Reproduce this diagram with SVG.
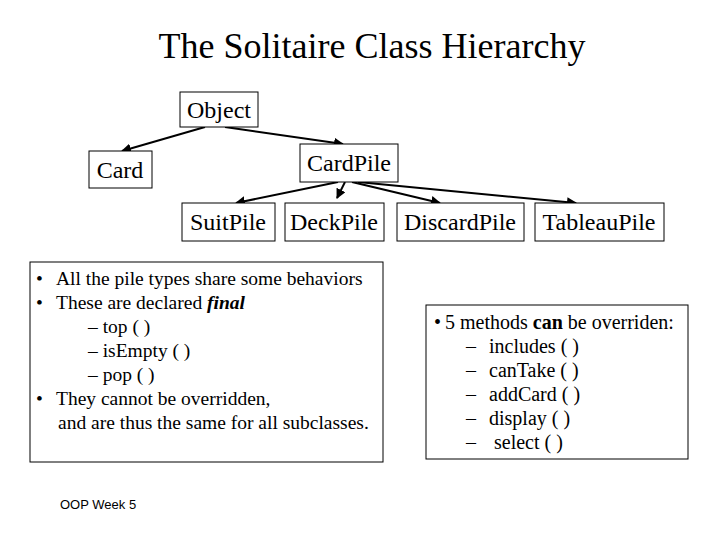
<svg xmlns="http://www.w3.org/2000/svg" width="720" height="540" viewBox="0 0 720 540">
<style>
text{font-family:"Liberation Serif","Times New Roman",serif;fill:#000}
.n{font-size:24px;text-anchor:middle}
.b{fill:#fff;stroke:#000;stroke-width:1}
.t{font-size:19.5px}
.r{font-size:20px}
line{stroke:#000;stroke-width:2;marker-end:url(#a)}
</style>
<defs><marker id="a" viewBox="0 0 10 10" refX="9" refY="5" markerWidth="5" markerHeight="5" orient="auto"><path d="M0,0L10,5L0,10z"/></marker></defs>
<rect width="720" height="540" fill="#fff"/>
<text x="372" y="58" font-size="36" text-anchor="middle">The Solitaire Class Hierarchy</text>
<g id="connectors">
<line x1="205" y1="127" x2="122" y2="151"/>
<line x1="225" y1="127" x2="343" y2="144"/>
<line x1="338" y1="182" x2="236" y2="203"/>
<line x1="345" y1="182" x2="337" y2="198"/>
<line x1="352" y1="182" x2="440" y2="203"/>
<line x1="358" y1="182" x2="576" y2="203"/>
</g>
<g id="object"><rect class="b" x="180" y="92" width="78" height="35"/><text class="n" x="219" y="118">Object</text></g>
<g id="card"><rect class="b" x="89" y="151" width="63" height="37"/><text class="n" x="120" y="178">Card</text></g>
<g id="cardpile"><rect class="b" x="300" y="144" width="98" height="38"/><text class="n" x="349" y="171">CardPile</text></g>
<g id="suitpile"><rect class="b" x="182" y="203" width="93" height="38"/><text class="n" x="228" y="230">SuitPile</text></g>
<g id="deckpile"><rect class="b" x="285" y="203" width="99" height="38"/><text class="n" x="334" y="230">DeckPile</text></g>
<g id="discardpile"><rect class="b" x="397" y="203" width="127" height="38"/><text class="n" x="460" y="230">DiscardPile</text></g>
<g id="tableaupile"><rect class="b" x="535" y="203" width="129" height="38"/><text class="n" x="599" y="230">TableauPile</text></g>
<g id="final-box"><rect class="b" x="30" y="262" width="353" height="200"/>
<text class="t" x="36" y="285">•</text><text class="t" x="56" y="285">All the pile types share some behaviors</text>
<text class="t" x="36" y="309">•</text><text class="t" x="56" y="309">These are declared <tspan font-weight="bold" font-style="italic">final</tspan></text>
<text class="t" x="88" y="333">– top ( )</text>
<text class="t" x="88" y="357">– isEmpty ( )</text>
<text class="t" x="88" y="381">– pop ( )</text>
<text class="t" x="36" y="405">•</text><text class="t" x="56" y="405">They cannot be overridden,</text>
<text class="t" x="58" y="429">and are thus the same for all subclasses.</text></g>
<g id="override-box"><rect class="b" x="426" y="305" width="262" height="154"/>
<text class="r" x="434" y="329">•</text><text class="r" x="445" y="329">5 methods <tspan font-weight="bold">can</tspan> be overriden:</text>
<text class="r" x="466" y="353">–</text><text class="r" x="489" y="353">includes ( )</text>
<text class="r" x="466" y="377">–</text><text class="r" x="489" y="377">canTake ( )</text>
<text class="r" x="466" y="401">–</text><text class="r" x="489" y="401">addCard ( )</text>
<text class="r" x="466" y="425">–</text><text class="r" x="489" y="425">display ( )</text>
<text class="r" x="466" y="449">–</text><text class="r" x="494" y="449">select ( )</text></g>
<text x="60" y="509" font-size="13" style="font-family:'Liberation Sans',Arial,sans-serif">OOP Week 5</text>
</svg>
